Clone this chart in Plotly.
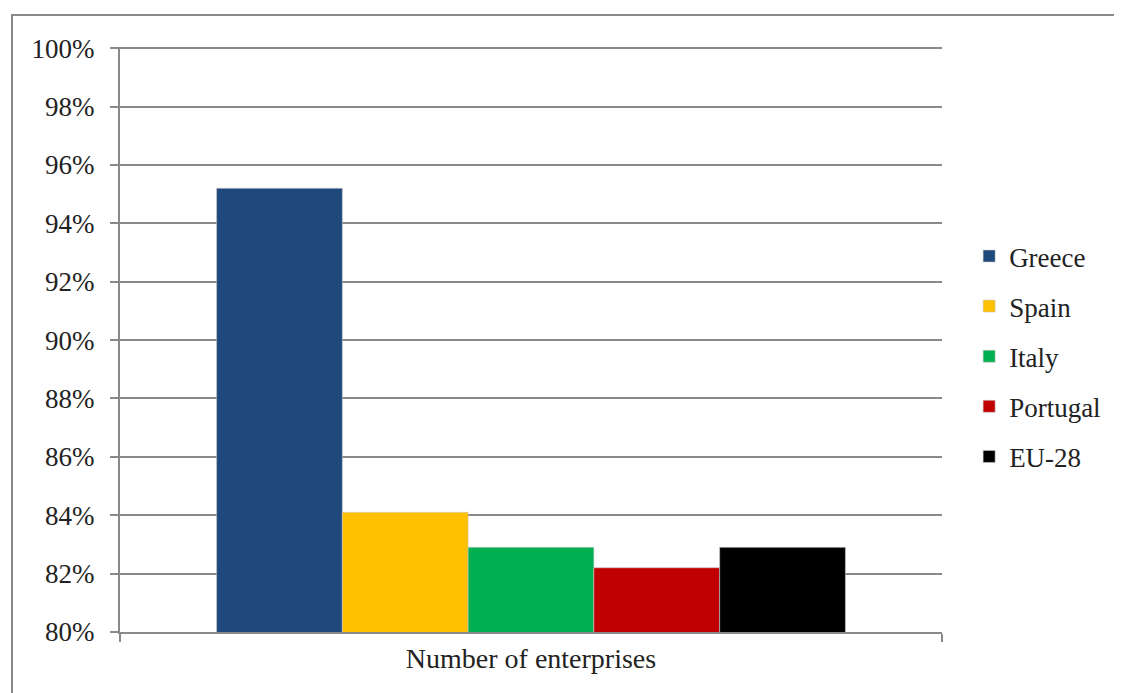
import plotly.graph_objects as go

category = ["Number of enterprises"]
countries = ["Greece", "Spain", "Italy", "Portugal", "EU-28"]
values = [0.952, 0.841, 0.829, 0.822, 0.829]
colors = ["#1F497D", "#FFC000", "#00B050", "#C00000", "#000000"]

fig = go.Figure()
for name, v, c in zip(countries, values, colors):
    fig.add_trace(go.Bar(
        x=category, y=[v], name=name, legendgroup=name,
        marker=dict(color=c, line=dict(color="rgba(200,200,200,0.6)", width=1)),
    ))

font_family = "Liberation Serif"
fig.update_layout(
    width=1114, height=685,
    margin=dict(l=112, r=180, t=39, b=61),
    paper_bgcolor="white", plot_bgcolor="white",
    barmode="group", bargap=0.235, bargroupgap=0,
    font=dict(family=font_family, size=27, color="#222222"),
    showlegend=True,
    legend=dict(x=1.033, y=0.471, xanchor="left", yanchor="middle",
                font=dict(family=font_family, size=27, color="#222222"),
                tracegroupgap=12, itemwidth=30),
    yaxis=dict(range=[0.8, 1.0004], tickvals=[0.80, 0.82, 0.84, 0.86, 0.88, 0.90,
                                              0.92, 0.94, 0.96, 0.98, 1.0],
               tickformat=".0%",
               tickfont=dict(family=font_family, size=27),
               showgrid=True, gridcolor="#898989", gridwidth=2,
               showline=True, linecolor="#898989", linewidth=2,
               ticks="outside", ticklen=8, tickwidth=2, tickcolor="#898989",
               zeroline=False, ticklabelstandoff=10),
    xaxis=dict(showline=True, linecolor="#898989", linewidth=2,
               tickfont=dict(family=font_family, size=28),
               ticks="outside", ticklen=8, tickwidth=2, tickcolor="#898989",
               tickson="boundaries"),
    shapes=[
        dict(type="path", xref="paper", yref="paper",
             path="M -0.1314,-0.2 L -0.1314,1.0547 L 1.3,1.0547",
             line=dict(color="#898989", width=2), layer="below"),
    ],
)

fig.write_html("out.html")
